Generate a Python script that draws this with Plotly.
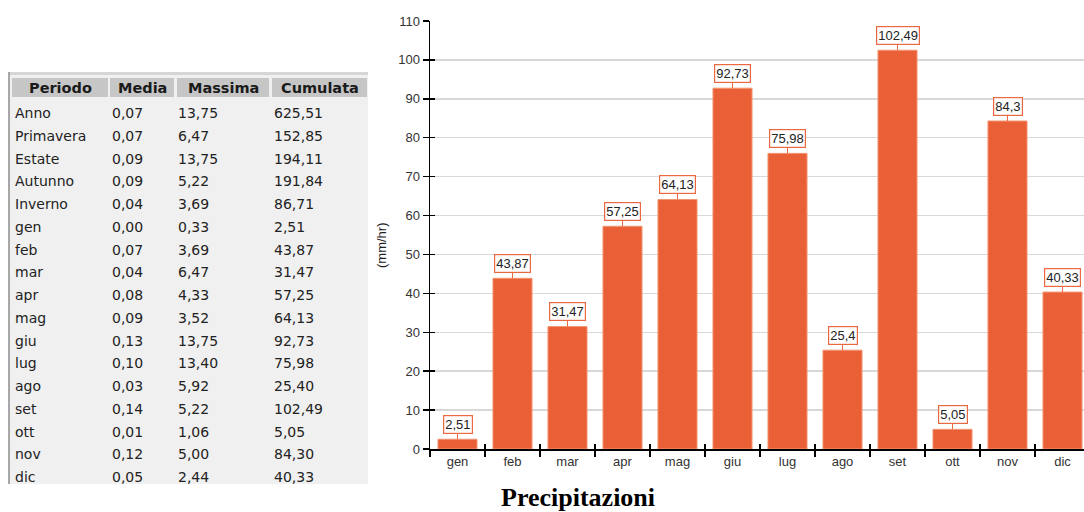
import plotly.graph_objects as go

# ---- data ----
months = ["gen", "feb", "mar", "apr", "mag", "giu", "lug", "ago", "set", "ott", "nov", "dic"]
cumulata_mesi = [2.51, 43.87, 31.47, 57.25, 64.13, 92.73, 75.98, 25.4, 102.49, 5.05, 84.3, 40.33]

table_header = ["Periodo", "Media", "Massima", "Cumulata"]
periodi = ["Anno", "Primavera", "Estate", "Autunno", "Inverno",
           "gen", "feb", "mar", "apr", "mag", "giu", "lug", "ago", "set", "ott", "nov", "dic"]
media = ["0,07", "0,07", "0,09", "0,09", "0,04",
         "0,00", "0,07", "0,04", "0,08", "0,09", "0,13", "0,10", "0,03", "0,14", "0,01", "0,12", "0,05"]
massima = ["13,75", "6,47", "13,75", "5,22", "3,69",
           "0,33", "3,69", "6,47", "4,33", "3,52", "13,75", "13,40", "5,92", "5,22", "1,06", "5,00", "2,44"]
cumulata = ["625,51", "152,85", "194,11", "191,84", "86,71",
            "2,51", "43,87", "31,47", "57,25", "64,13", "92,73", "75,98", "25,40", "102,49", "5,05", "84,30", "40,33"]

W, H = 1084, 512
L, R_EDGE, T, B = 430, 1084, 21, 449
PW, PH = R_EDGE - L, B - T
XR = [-0.5, -0.5 + PW / 55.0]
YR = [0, 110]


def fx(px):
    return (px - L) / PW


def fy(py):
    return (B - py) / PH


def fmt(v):
    s = ("%.2f" % v).rstrip("0").rstrip(".")
    return s.replace(".", ",")


BAR = "#EA6036"
LBL = "#EC6840"
fig = go.Figure()
fig.add_trace(go.Bar(
    x=months, y=cumulata_mesi, width=0.71,
    marker=dict(color=BAR, line=dict(color="#F29572", width=1)),
    hoverinfo="skip",
))
# invisible trace on overlay axes (draws the inner half of the tick marks)
fig.add_trace(go.Scatter(
    x=months, y=[None] * len(months), xaxis="x2", yaxis="y2",
    mode="markers", hoverinfo="skip", showlegend=False,
))

annotations = []
for m, v in zip(months, cumulata_mesi):
    annotations.append(dict(
        x=m, y=v, xref="x", yref="y", text=fmt(v),
        showarrow=True, arrowhead=0, arrowwidth=1, arrowcolor=LBL,
        ax=0, ay=-15, standoff=0,
        bgcolor="white", bordercolor=LBL, borderwidth=1.2, borderpad=1,
        font=dict(family="Arial, Liberation Sans", size=13, color="#222222"),
    ))

# y axis title
annotations.append(dict(
    x=fx(381), y=fy(245), xref="paper", yref="paper", text="(mm/hr)",
    showarrow=False, textangle=-90, xanchor="center", yanchor="middle",
    font=dict(family="Arial, Liberation Sans", size=13, color="#222222"),
))
# chart title
annotations.append(dict(
    x=fx(578), y=fy(498), xref="paper", yref="paper", text="<b>Precipitazioni</b>",
    showarrow=False, xanchor="center", yanchor="middle",
    font=dict(family="Liberation Serif, Times New Roman", size=26, color="#000000"),
))

shapes = []
# table panel
shapes.append(dict(type="rect", xref="paper", yref="paper",
                   x0=fx(9), x1=fx(368), y0=fy(484), y1=fy(74),
                   fillcolor="#f0f0f0", line=dict(width=0), layer="below"))
shapes.append(dict(type="rect", xref="paper", yref="paper",
                   x0=fx(9), x1=fx(368), y0=fy(75), y1=fy(72),
                   fillcolor="#d6d6d6", line=dict(width=0)))
shapes.append(dict(type="line", xref="paper", yref="paper",
                   x0=fx(9), x1=fx(9), y0=fy(484), y1=fy(72),
                   line=dict(color="#8c8c8c", width=1.5)))

header_cells = [(12, 108), (110, 174), (177, 269), (272, 367)]
for (a, b), h in zip(header_cells, table_header):
    shapes.append(dict(type="rect", xref="paper", yref="paper",
                       x0=fx(a), x1=fx(b), y0=fy(97), y1=fy(78),
                       fillcolor="#c6c6c6", line=dict(width=0)))
    annotations.append(dict(
        x=fx((a + b) / 2), y=fy(88), xref="paper", yref="paper",
        text="<b>%s</b>" % h, showarrow=False, xanchor="center", yanchor="middle",
        font=dict(family="DejaVu Sans", size=14.5, color="#1a1a1a"),
    ))

col_x = [13, 110, 176, 272]
for i in range(len(periodi)):
    yc = 113 + 22.75 * i
    for cx, val in zip(col_x, [periodi[i], media[i], massima[i], cumulata[i]]):
        annotations.append(dict(
            x=fx(cx), y=fy(yc), xref="paper", yref="paper", text=val,
            showarrow=False, xanchor="left", yanchor="middle",
            font=dict(family="DejaVu Sans", size=14, color="#222222"),
        ))

tickfont = dict(family="Arial, Liberation Sans", size=13, color="#333333")
fig.update_layout(
    width=W, height=H,
    margin=dict(l=L, r=W - R_EDGE, t=T, b=H - B, pad=0),
    paper_bgcolor="white", plot_bgcolor="white",
    showlegend=False, bargap=0.29,
    annotations=annotations, shapes=shapes,
    xaxis=dict(
        type="category", range=XR, categoryorder="array", categoryarray=months,
        showline=True, linecolor="black", linewidth=1.5,
        ticks="outside", ticklen=6, tickcolor="black", tickwidth=1.5,
        tickson="boundaries", showgrid=False,
        tickfont=tickfont,
    ),
    yaxis=dict(
        range=YR, dtick=10, tick0=0,
        showline=True, linecolor="black", linewidth=1.5,
        ticks="outside", ticklen=6, tickcolor="black", tickwidth=1.5,
        showgrid=True, gridcolor="#d8d8d8", gridwidth=1.5,
        zeroline=False,
        tickfont=tickfont,
    ),
    xaxis2=dict(
        type="category", range=XR, categoryorder="array", categoryarray=months,
        overlaying="x", anchor="y2", side="bottom",
        ticks="inside", ticklen=5, tickcolor="black", tickwidth=1.5,
        tickson="boundaries", showgrid=False, showline=False,
        showticklabels=False, zeroline=False,
    ),
    yaxis2=dict(
        range=YR, dtick=10, tick0=0, overlaying="y", anchor="x2", side="left",
        ticks="inside", ticklen=5, tickcolor="black", tickwidth=1.5,
        showgrid=False, showline=False, showticklabels=False, zeroline=False,
    ),
)

fig.write_html(
    "out.html",
    config={"displayModeBar": False, "staticPlot": True},
    post_script="document.body.style.margin='0';document.body.style.overflow='hidden';",
)
